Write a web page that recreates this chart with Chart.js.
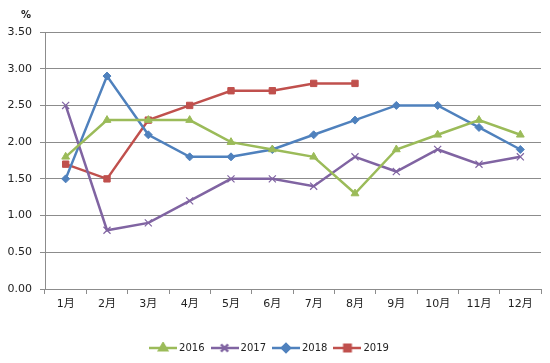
<!DOCTYPE html>
<html>
<head>
<meta charset="utf-8">
<script src="https://cdn.jsdelivr.net/npm/chart.js@4/dist/chart.umd.min.js"></script>
<style>
  html, body { margin: 0; padding: 0; background: #fff; }
  #wrap { width: 550px; height: 363px; }
</style>
</head>
<body>
<div id="wrap"><canvas id="c" width="550" height="363"></canvas></div>
<script>
// monthly rates, %
const months = ["1月", "2月", "3月", "4月", "5月", "6月", "7月", "8月", "9月", "10月", "11月", "12月"];
const s2016 = [1.8, 2.3, 2.3, 2.3, 2.0, 1.9, 1.8, 1.3, 1.9, 2.1, 2.3, 2.1];
const s2017 = [2.5, 0.8, 0.9, 1.2, 1.5, 1.5, 1.4, 1.8, 1.6, 1.9, 1.7, 1.8];
const s2018 = [1.5, 2.9, 2.1, 1.8, 1.8, 1.9, 2.1, 2.3, 2.5, 2.5, 2.2, 1.9];
const s2019 = [1.7, 1.5, 2.3, 2.5, 2.7, 2.7, 2.8, 2.8];
const yTicks = [0, 0.5, 1, 1.5, 2, 2.5, 3, 3.5];

const FONT = "'DejaVu Sans', 'Noto Sans CJK SC', sans-serif";
const GRID = "#8c8c8c";

function series(label, data, color, style, radius) {
  return {
    label, data,
    borderColor: color, backgroundColor: color,
    borderWidth: 2.5, pointStyle: style, pointRadius: radius,
    pointBorderWidth: style === "crossRot" ? 1.2 : 1,
    pointHoverRadius: radius, tension: 0, fill: false,
  };
}

// legend swatch: short line with the marker in the middle
function swatch(ds) {
  const cv = document.createElement("canvas");
  cv.width = 28; cv.height = 12;
  const g = cv.getContext("2d");
  g.strokeStyle = ds.borderColor; g.fillStyle = ds.backgroundColor;
  g.lineWidth = 2.5;
  g.beginPath(); g.moveTo(0, 6); g.lineTo(28, 6); g.stroke();
  Chart.helpers.drawPoint(g, {
    pointStyle: ds.pointStyle, radius: ds.pointRadius, borderWidth: ds.pointBorderWidth,
  }, 14, 6);
  if (ds.pointStyle !== "crossRot") g.fill();
  return cv;
}

const percentLabel = {
  id: "percentLabel",
  afterDraw(chart) {
    const ctx = chart.ctx;
    ctx.save();
    ctx.font = "bold 10px " + FONT;
    ctx.fillStyle = "#222";
    ctx.textAlign = "center";
    ctx.fillText("%", 26, 15);
    ctx.restore();
  },
};

new Chart(document.getElementById("c"), {
  type: "line",
  data: {
    labels: months,
    datasets: [
      series("2016", s2016, "#9bbb59", "triangle", 4.5),
      series("2017", s2017, "#8064a2", "crossRot", 5),
      series("2018", s2018, "#4f81bd", "rectRot", 4),
      series("2019", s2019, "#c0504d", "rect", 4.5),
    ],
  },
  options: {
    responsive: false,
    animation: false,
    layout: { padding: { top: 32, right: 9, bottom: 0, left: 0 } },
    plugins: {
      tooltip: { enabled: false },
      legend: {
        position: "bottom",
        labels: {
          font: { family: FONT, size: 10 },
          color: "#222",
          usePointStyle: true,
          pointStyleWidth: 22,
          padding: 9,
          generateLabels(chart) {
            return chart.data.datasets.map((ds, i) => ({
              text: ds.label,
              pointStyle: swatch(ds),
              fillStyle: ds.backgroundColor,
              strokeStyle: ds.borderColor,
              lineWidth: 0,
              datasetIndex: i,
              fontColor: "#222",
            }));
          },
        },
      },
    },
    scales: {
      x: {
        offset: true,
        grid: { display: true, drawOnChartArea: false, offset: true, color: GRID, tickLength: 5 },
        border: { color: GRID },
        ticks: { font: { family: FONT, size: 11 }, color: "#222", padding: 4, maxRotation: 0, autoSkip: false },
        afterFit(s) { s.height = 45; },
      },
      y: {
        min: 0, max: 3.5,
        afterBuildTicks(s) { s.ticks = yTicks.map((v) => ({ value: v })); },
        grid: { color: GRID, tickLength: 5 },
        border: { color: GRID },
        ticks: { font: { family: FONT, size: 11 }, color: "#222", padding: 8, callback: (v) => v.toFixed(2) },
        afterFit(s) { s.width = 45; },
      },
    },
  },
  plugins: [percentLabel],
});
</script>
</body>
</html>
